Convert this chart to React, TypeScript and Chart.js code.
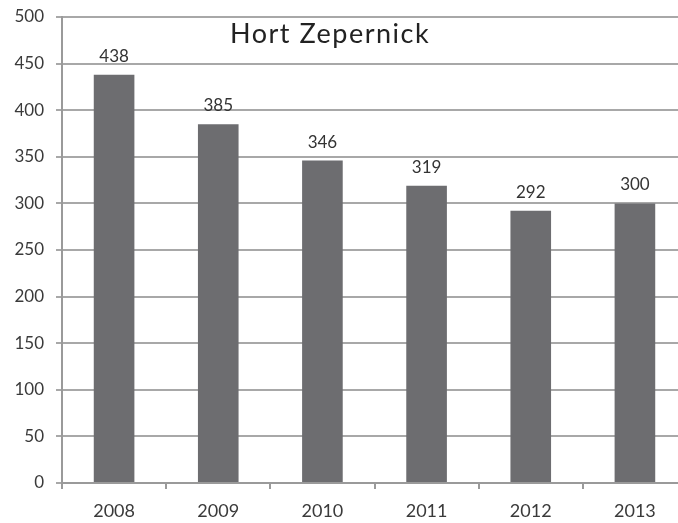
import React, { useEffect, useRef } from "react";
import { Chart, registerables } from "chart.js";

Chart.register(...registerables);

const categories = ["2008", "2009", "2010", "2011", "2012", "2013"];
const values = [438, 385, 346, 319, 292, 300];
const chartTitle = "Hort Zepernick";
const yMin = 0;
const yMax = 500;
const yStep = 50;

const FONT = "Lato, 'Open Sans', sans-serif";

const valueLabels = {
  id: "valueLabels",
  afterDatasetsDraw(chart: any) {
    const ctx = chart.ctx;
    const meta = chart.getDatasetMeta(0);
    ctx.save();
    ctx.font = `17px ${FONT}`;
    ctx.fillStyle = "#333333";
    ctx.textAlign = "center";
    ctx.textBaseline = "alphabetic";
    meta.data.forEach((bar: any, i: number) => {
      ctx.fillText(String(values[i]), bar.x, bar.y - 13);
    });
    ctx.restore();
  },
};

const innerTitle = {
  id: "innerTitle",
  afterDatasetsDraw(chart: any) {
    const ctx = chart.ctx;
    const area = chart.chartArea;
    ctx.save();
    ctx.font = `27px ${FONT}`;
    try {
      (ctx as any).letterSpacing = "1.5px";
    } catch (e) {}
    ctx.fillStyle = "#222222";
    ctx.textAlign = "left";
    ctx.textBaseline = "alphabetic";
    ctx.fillText(chartTitle, area.left + 168, area.top + 26);
    ctx.restore();
  },
};

export default function App() {
  const ref = useRef<HTMLCanvasElement | null>(null);
  useEffect(() => {
    if (!ref.current) return;
    const chart = new Chart(ref.current, {
      type: "bar",
      data: {
        labels: categories,
        datasets: [
          {
            data: values,
            backgroundColor: "#6d6d70",
            borderWidth: 0,
            categoryPercentage: 1,
            barPercentage: 0.39,
          },
        ],
      },
      options: {
        responsive: false,
        animation: false,
        layout: { padding: { top: 17, right: 0, bottom: 0, left: 0 } },
        plugins: {
          legend: { display: false },
          title: { display: false },
          tooltip: { enabled: false },
        },
        scales: {
          x: {
            offset: true,
            grid: {
              offset: true,
              drawOnChartArea: false,
              drawTicks: true,
              tickLength: 6,
              color: "#9a9a9a",
              lineWidth: 2,
            },
            border: { display: true, color: "#9a9a9a", width: 2 },
            ticks: {
              color: "#3a3a3a",
              font: { family: FONT, size: 18 },
              padding: 11,
            },
            afterFit(scale: any) {
              scale.height = 40;
            },
          },
          y: {
            min: yMin,
            max: yMax,
            ticks: {
              stepSize: yStep,
              color: "#3a3a3a",
              font: { family: FONT, size: 17 },
              padding: 12,
            },
            grid: {
              color: "#a8a8a8",
              lineWidth: 2,
              tickLength: 6,
              drawTicks: true,
            },
            border: { display: true, color: "#9a9a9a", width: 2 },
            afterFit(scale: any) {
              scale.width = 62;
              scale.paddingTop = 0;
              scale.paddingBottom = 0;
            },
          },
        },
      },
      plugins: [valueLabels, innerTitle],
    });
    return () => chart.destroy();
  }, []);
  return (
    <div
      style={{
        position: "fixed",
        left: 0,
        top: 0,
        width: 678,
        height: 523,
        overflow: "hidden",
        background: "#ffffff",
      }}
    >
      <canvas ref={ref} width={687} height={523} style={{ display: "block" }} />
    </div>
  );
}
